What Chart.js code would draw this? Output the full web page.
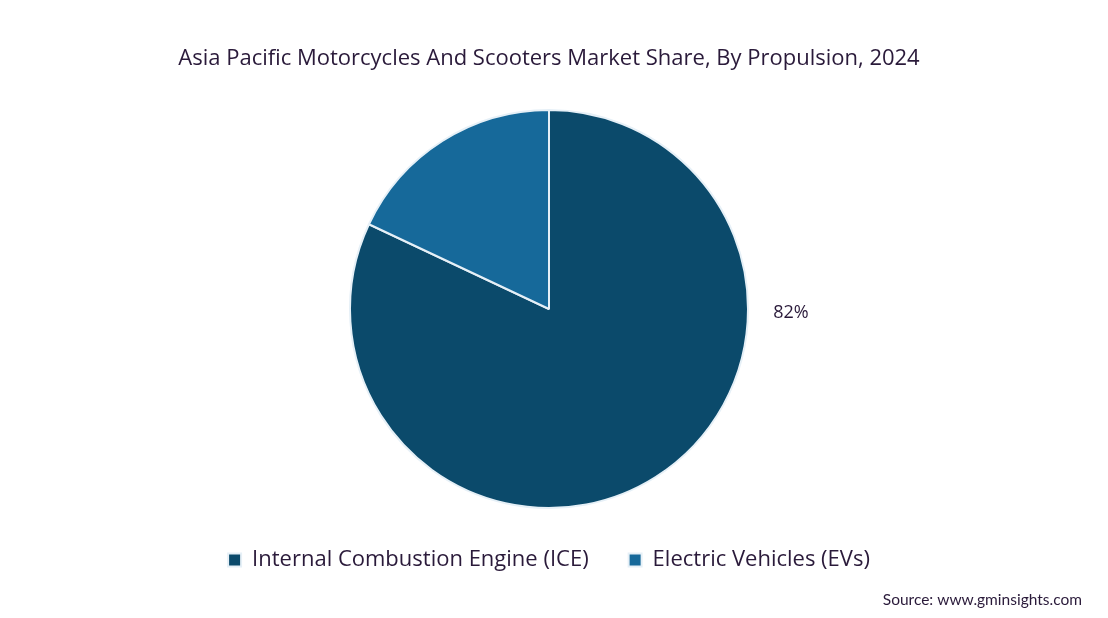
<!DOCTYPE html>
<html>
<head>
<meta charset="utf-8">
<script src="https://cdn.jsdelivr.net/npm/chart.js@4/dist/chart.umd.min.js"></script>
<style>
  html, body { margin: 0; padding: 0; background: #ffffff; }
  #wrap { width: 1108px; height: 618px; position: relative; }
</style>
</head>
<body>
<div id="wrap"><canvas id="pieChart"></canvas></div>
<script>
const categories = ["Internal Combustion Engine (ICE)", "Electric Vehicles (EVs)"];
const shares = [82, 18];
const sliceColors = ["#0b4a6b", "#16699a"];
const shownLabels = ["82%", ""];

const textColor = "#2a1a3a";

// draws the percentage next to the big slice, on the right side of the pie
const sliceLabels = {
    id: 'sliceLabels',
    afterDatasetsDraw(chart) {
        const ctx = chart.ctx;
        const arcs = chart.getDatasetMeta(0).data;
        ctx.save();
        ctx.font = '18px "Open Sans"';
        ctx.fillStyle = textColor;
        ctx.textAlign = 'center';
        ctx.textBaseline = 'middle';
        arcs.forEach((arc, i) => {
            if (!shownLabels[i]) return;
            const p = arc.getProps(['x', 'y', 'outerRadius'], true);
            ctx.fillText(shownLabels[i], p.x + p.outerRadius + 43, p.y + 4);
        });
        ctx.restore();
    }
};

// source note, bottom right
const sourceNote = {
    id: 'sourceNote',
    afterDraw(chart) {
        const ctx = chart.ctx;
        ctx.save();
        ctx.font = '15.5px Lato';
        ctx.fillStyle = textColor;
        ctx.textAlign = 'right';
        ctx.textBaseline = 'middle';
        ctx.fillText('Source: www.gminsights.com', 1082, 600);
        ctx.restore();
    }
};

new Chart(document.getElementById('pieChart'), {
    type: 'pie',
    data: {
        labels: categories,
        datasets: [{
            data: shares,
            backgroundColor: sliceColors,
            borderColor: '#e6f0f7',
            borderWidth: 2
        }]
    },
    options: {
        responsive: true,
        maintainAspectRatio: false,
        animation: false,
        layout: {
            padding: { left: 16, right: 26, top: 0, bottom: 37 }
        },
        plugins: {
            title: {
                display: true,
                text: 'Asia Pacific Motorcycles And Scooters Market Share, By Propulsion, 2024',
                color: textColor,
                font: { family: '"Open Sans"', size: 22, weight: 'normal' },
                padding: { top: 46, bottom: 36.6 }
            },
            legend: {
                position: 'bottom',
                labels: {
                    color: textColor,
                    font: { family: '"Open Sans"', size: 22 },
                    boxWidth: 13,
                    boxHeight: 13,
                    padding: 40
                }
            },
            tooltip: { enabled: false }
        }
    },
    plugins: [sliceLabels, sourceNote]
});
</script>
</body>
</html>
